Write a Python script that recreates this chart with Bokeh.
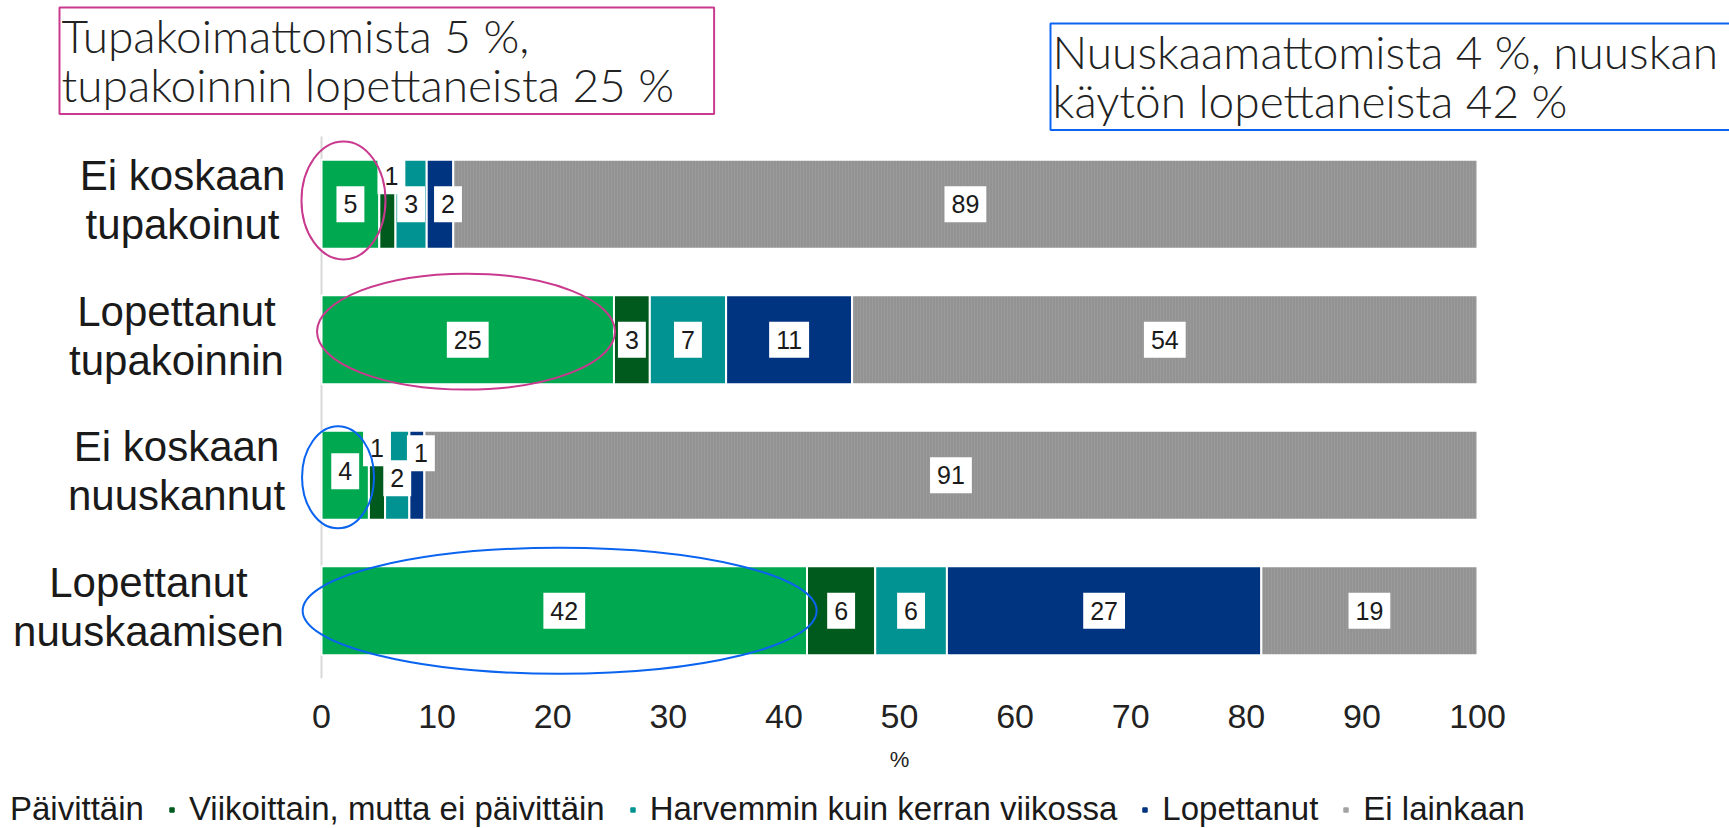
import numpy as np
from bokeh.plotting import figure
from bokeh.layouts import column
from bokeh.models import (Range1d, FixedTicker, Label, Legend, LegendItem,
                          ColumnDataSource)
from bokeh.core.properties import value
from bokeh.embed import file_html
from bokeh.resources import INLINE

# ---------------- data ----------------
categories = ["Ei koskaan\ntupakoinut", "Lopettanut\ntupakoinnin",
              "Ei koskaan\nnuuskannut", "Lopettanut\nnuuskaamisen"]
series = ["Päivittäin", "Viikoittain, mutta ei päivittäin",
          "Harvemmin kuin kerran viikossa", "Lopettanut", "Ei lainkaan"]
paivittain = [5.0, 25.3, 4.1, 42.0]
viikoittain = [1.4, 3.1, 1.4, 5.9]
harvemmin = [2.7, 6.6, 2.1, 6.2]
lopettanut = [2.3, 10.9, 1.3, 27.2]
ei_lainkaan = [88.6, 54.1, 91.1, 18.7]
x_ticks = list(range(0, 101, 10))
x_title = "%"

title_smoke = "Tupakoimattomista 5 %,\ntupakoinnin lopettaneista 25 %"
title_snus = "Nuuskaamattomista 4 %, nuuskan\nkäytön lopettaneista 42 %"

# ---------------- style ----------------
colors = ["#00A850", "#005A1E", "#009391", "#003380", "#939393"]
legend_colors = ["#00A850", "#005A1E", "#009391", "#003380", "#a3a3a3"]
MAG = "#C93A8E"
BLUE = "#0A64F0"
FONT_S = "Liberation Sans"
FONT = value(FONT_S)
LIGHT_S = "Lato Light"
W, H = 1729, 828
MAIN_H = 744          # main chart canvas height; legend strip below it

# label nudges (px) for crowded small segments: (row, series) -> (dx, dy)
nudges = {(0, 1): (4, -28), (0, 3): (8, 0), (2, 0): (0, -4),
          (2, 1): (0, -27), (2, 2): (0, 3), (2, 3): (4, -22)}
# horizontal placement of the (centred) row captions, px left of x=0
caption_dx = [-139, -145, -145, -173]


def bar_style(s):
    kw = dict(fill_color=colors[s], line_color="white", line_width=2)
    if s == 4:
        kw.update(hatch_pattern="vertical_line", hatch_color="#a2a2a2",
                  hatch_scale=3, hatch_weight=1, hatch_alpha=0.5)
    return kw


def clean(fig):
    fig.outline_line_color = None
    fig.outline_line_alpha = 0
    fig.border_fill_color = "white"
    fig.background_fill_color = "white"
    for g in list(fig.xgrid) + list(fig.ygrid):
        g.visible = False
    return fig


rows = list(range(len(categories)))

p = figure(width=W, height=MAIN_H, output_backend="svg",
           toolbar_location=None,
           x_range=Range1d(-27.77, 121.8), y_range=Range1d(3.5, -1.5037),
           y_axis_location=None)
clean(p)
p.min_border_left = 0
p.min_border_right = 0
p.min_border_top = 0
p.min_border_bottom = 66

# thin zero line spanning the category bands
p.segment(x0=[0], y0=[rows[0] - 0.5], x1=[0], y1=[rows[-1] + 0.5],
          line_color="#d9d9d9", line_width=2)

arr = np.array([paivittain, viikoittain, harvemmin, lopettanut, ei_lainkaan],
               dtype=float)                     # series x rows
cum = np.cumsum(arr, axis=0)
lefts = cum - arr

for s, name in enumerate(series):
    src = ColumnDataSource(dict(y=rows, left=lefts[s], right=cum[s]))
    p.hbar(y="y", left="left", right="right", height=0.655, source=src,
           **bar_style(s))

# value labels
lx, ly, lt, dx, dy = [], [], [], [], []
for s in range(len(series)):
    for i in rows:
        lx.append(lefts[s][i] + arr[s][i] / 2)
        ly.append(i)
        lt.append(str(int(round(arr[s][i]))))
        ox, oy = nudges.get((i, s), (0, 0))
        dx.append(ox)
        dy.append(oy)
lsrc = ColumnDataSource(dict(x=lx, y=ly, t=lt, dx=dx, dy=dy))
p.text(x="x", y="y", text="t", x_offset="dx", y_offset="dy", source=lsrc,
       text_align="center", text_baseline="middle", text_font=FONT,
       text_font_size="25px", text_color="#1a1a1a",
       background_fill_color="white",
       padding=dict(left=7, right=7, top=9, bottom=9))

# row captions
csrc = ColumnDataSource(dict(x=[0] * len(rows), y=rows, t=categories,
                             dx=caption_dx))
p.text(x="x", y="y", text="t", x_offset="dx", y_offset=-4, source=csrc,
       text_align="center", text_baseline="middle", text_font=FONT,
       text_font_size="42px", text_line_height=1.05, text_color="#1a1a1a")

# highlight ellipses (annotation geometry)
ell = ColumnDataSource(dict(
    x=[1.9, 12.5, 1.43, 20.6],
    y=[0 - 0.028, 1 - 0.06, 2 + 0.015, 3],
    w=[84, 298, 72, 514], h=[118, 116, 102, 126],
    c=[MAG, MAG, BLUE, BLUE]))
p.ellipse(x="x", y="y", width="w", height="h", width_units="screen",
          height_units="screen", source=ell, fill_color=None,
          line_color="c", line_width=2)

# x axis
p.xaxis.ticker = FixedTicker(ticks=x_ticks)
p.xaxis.axis_line_color = None
p.xaxis.major_tick_line_color = None
p.xaxis.minor_tick_line_color = None
p.xaxis.major_tick_out = 0
p.xaxis.major_label_standoff = 26
p.xaxis.major_label_text_font = FONT_S
p.xaxis.major_label_text_font_size = "34px"
p.xaxis.major_label_text_color = "#222222"

# title boxes (inside the frame, screen units from frame bottom-left)
FB = 678
for txt, x, top_y, col, pr in [(title_smoke, 59, 7, MAG, 40),
                               (title_snus, 1050, 23, BLUE, 80)]:
    p.add_layout(Label(x=x, y=FB - top_y, x_units="screen", y_units="screen",
                       text=txt, text_font=LIGHT_S, text_font_size="46px",
                       text_line_height=0.9,
                       text_color="#222222", text_align="left",
                       text_baseline="top", border_line_color=col,
                       border_line_width=2, background_fill_color="white",
                       padding=dict(left=2, right=pr, top=0, bottom=2)))

# ---------------- legend strip ----------------
SH = H - MAIN_H
leg = figure(width=W, height=SH, output_backend="svg", toolbar_location=None,
             x_range=Range1d(0, 1), y_range=Range1d(0, 1),
             x_axis_location=None, y_axis_location=None)
clean(leg)
leg.min_border = 0
items = []
for s, name in enumerate(series):
    # legend swatch carrier, kept outside the visible range
    r = leg.scatter(x=[-5], y=[-5], marker="square", size=11,
                    fill_color=legend_colors[s], line_color=legend_colors[s])
    items.append(LegendItem(label=name, renderers=[r]))
legend = Legend(items=items, orientation="horizontal", location=(-13, 0),
                glyph_width=11, glyph_height=11, label_standoff=12,
                spacing=22, padding=0, margin=0, border_line_color=None,
                background_fill_alpha=0, label_text_font=FONT_S,
                label_text_font_size="33px", label_text_color="#1a1a1a")
leg.add_layout(legend, "center")
# x-axis title, centred under x = 50
leg.add_layout(Label(x=899, y=H - 759, x_units="screen", y_units="screen",
                     text=x_title, text_font=FONT_S, text_font_size="22px",
                     text_color="#222222", text_align="center",
                     text_baseline="middle"))

layout = column(p, leg, spacing=0)
open("out.html", "w").write(file_html(layout, INLINE))
